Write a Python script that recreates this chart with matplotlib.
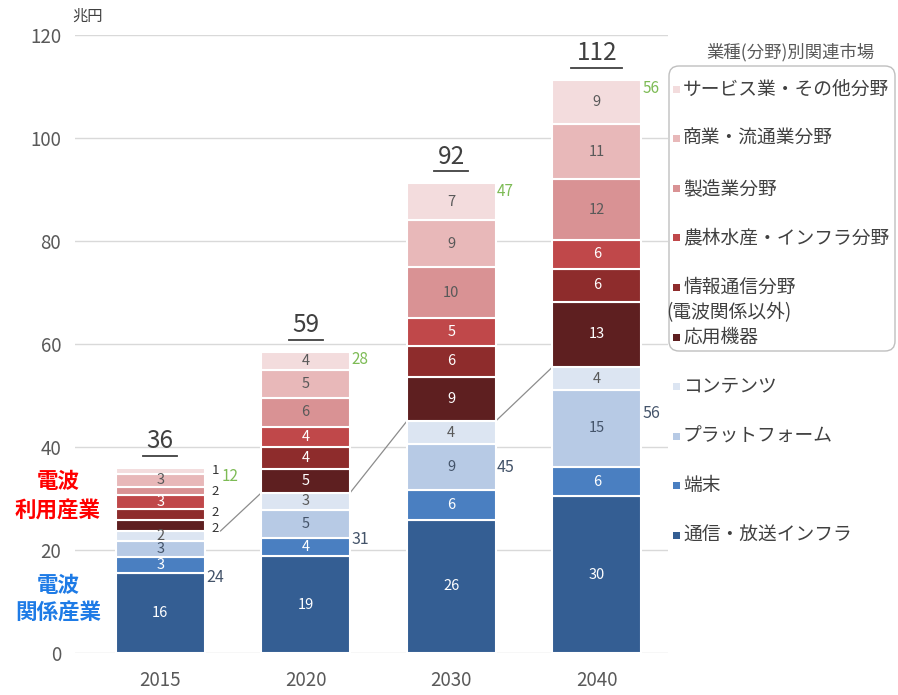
import numpy as np
import matplotlib
matplotlib.use('Agg')
import matplotlib.pyplot as plt
from matplotlib.patches import FancyBboxPatch, Rectangle

plt.rcParams['font.family'] = ['Noto Sans CJK JP', 'DejaVu Sans']

years = ['2015', '2020', '2030', '2040']

# series, bottom to top (兆円)
infra = [15.6, 18.8, 25.9, 30.4]
terminal = [3.1, 3.6, 5.8, 5.8]
platform = [3.1, 5.4, 8.8, 14.8]
contents = [1.9, 3.3, 4.5, 4.5]
app_equip = [2.1, 4.6, 8.6, 12.7]
info_comm = [2.2, 4.3, 6.1, 6.4]
agri_infra = [2.7, 3.9, 5.3, 5.6]
manufacturing = [1.5, 5.6, 9.9, 11.8]
commerce = [2.6, 5.4, 9.2, 10.7]
service = [1.1, 3.6, 7.1, 8.6]

names = ['通信・放送インフラ', '端末', 'プラットフォーム', 'コンテンツ',
         '応用機器', '情報通信分野\n(電波関係以外)', '農林水産・インフラ分野',
         '製造業分野', '商業・流通業分野', 'サービス業・その他分野']
colors = ['#345E93', '#4A7FC1', '#B7CAE5', '#DCE5F2',
          '#5E1F20', '#8E2C2C', '#C0484A', '#D99294', '#E8B8B9', '#F3DCDD']
label_colors = ['white', 'white', '#44546A', '#595959',
                'white', 'white', 'white', '#595959', '#595959', '#595959']

totals = [36, 59, 92, 112]
radio_related = [24, 31, 45, 56]
radio_use = [12, 28, 47, 56]

series = [infra, terminal, platform, contents, app_equip, info_comm,
          agri_infra, manufacturing, commerce, service]


def main():
    fig = plt.figure(figsize=(8.98, 6.95), dpi=100)
    ax = fig.add_axes([75/898, 42/695, 593/898, 618/695])

    x = np.arange(len(years))
    w = 0.61
    bottom = np.zeros(len(years))
    blue_top = None
    for k, vals in enumerate(series):
        vals = np.array(vals)
        ax.bar(x, vals, w, bottom=bottom, color=colors[k], edgecolor='white',
               linewidth=1.5, zorder=3)
        for i, v in enumerate(vals):
            yc = bottom[i] + v / 2
            if k >= 4 and v < 2.5:
                # small segments get their label outside, nudged apart a bit
                nudge = {4: -0.6, 5: 0.3}.get(k, 0)
                ax.text(x[i] + w/2 + 0.05, yc + nudge, f'{v:.0f}', ha='left',
                        va='center', fontsize=9.5, color='#333333', zorder=5)
            else:
                ax.text(x[i], yc, f'{v:.0f}', ha='center', va='center',
                        fontsize=10.5, color=label_colors[k], zorder=5)
        bottom = bottom + vals
        if k == 3:
            blue_top = bottom.copy()

    # series lines between blue stacks
    for i in range(len(years) - 1):
        x0 = x[i] + w/2 + (0.11 if i == 0 else 0)
        ax.plot([x0, x[i+1] - w/2], [blue_top[i], blue_top[i+1]],
                color='#8C8C8C', lw=0.9, zorder=2)

    for i in range(len(years)):
        ax.text(x[i] + w/2 + 0.01, blue_top[i] - 9, str(radio_related[i]),
                ha='left', va='center', fontsize=11.5, color='#44546A', zorder=5)
        gx = x[i] + w/2 + (0.12 if i == 0 else 0.01)
        ax.text(gx, bottom[i] - 1.6, str(radio_use[i]), ha='left', va='center',
                fontsize=11, color='#7DBB55', zorder=5)
        ax.text(x[i], bottom[i] + 5.2, str(totals[i]), ha='center',
                va='center', fontsize=17.5, color='#404040', zorder=5)
        hw = 0.058 * len(str(totals[i]))
        ax.plot([x[i] - hw, x[i] + hw], [bottom[i] + 2.3] * 2, color='#404040',
                lw=1.3, zorder=5)

    ax.set_xlim(-0.585, 3.49)
    ax.set_ylim(0, 120)
    ax.set_yticks(np.arange(0, 121, 20))
    ax.set_xticks(x)
    ax.set_xticklabels(years)
    ax.tick_params(length=0, labelsize=13.5, labelcolor='#595959')
    ax.tick_params(axis='y', pad=10)
    ax.tick_params(axis='x', pad=12)
    ax.grid(axis='y', color='#D9D9D9', lw=1, zorder=0)
    for s in ax.spines.values():
        s.set_visible(False)

    # overlay in pixel coordinates for legend and side texts
    lax = fig.add_axes([0, 0, 1, 1])
    lax.set_xlim(0, 898)
    lax.set_ylim(695, 0)
    lax.axis('off')

    lax.text(72, 16, '兆円', fontsize=11, color='#404040', ha='left', va='center')
    lax.text(58, 482, '電波', fontsize=15.5, fontweight='bold', color='#FF0000',
             ha='center', va='center')
    lax.text(58, 510, '利用産業', fontsize=15.5, fontweight='bold', color='#FF0000',
             ha='center', va='center')
    lax.text(58, 585, '電波', fontsize=15.5, fontweight='bold', color='#1E7BE6',
             ha='center', va='center')
    lax.text(58, 612, '関係産業', fontsize=15.5, fontweight='bold', color='#1E7BE6',
             ha='center', va='center')

    lax.add_patch(FancyBboxPatch((669, 66), 226, 285,
                                 boxstyle='round,pad=0,rounding_size=10',
                                 facecolor='white', edgecolor='#BFBFBF', lw=1))
    lax.text(790, 52, '業種(分野)別関連市場', fontsize=12.5, color='#595959',
             ha='center', va='center')

    order = list(range(len(names)))[::-1]
    for j, k in enumerate(order):
        y = 89 + 49.6 * j
        lax.add_patch(Rectangle((673, y - 3.5), 7, 7, facecolor=colors[k],
                                edgecolor='none'))
        lines = names[k].split('\n')
        lax.text(683, y, lines[0], fontsize=13.5, color='#404040',
                 ha='left', va='center')
        for m, ln in enumerate(lines[1:], 1):
            lax.text(666, y + 25 * m, ln, fontsize=13.5, color='#404040',
                     ha='left', va='center')

    fig.savefig('out.png', dpi=100)


if __name__ == '__main__':
    main()
